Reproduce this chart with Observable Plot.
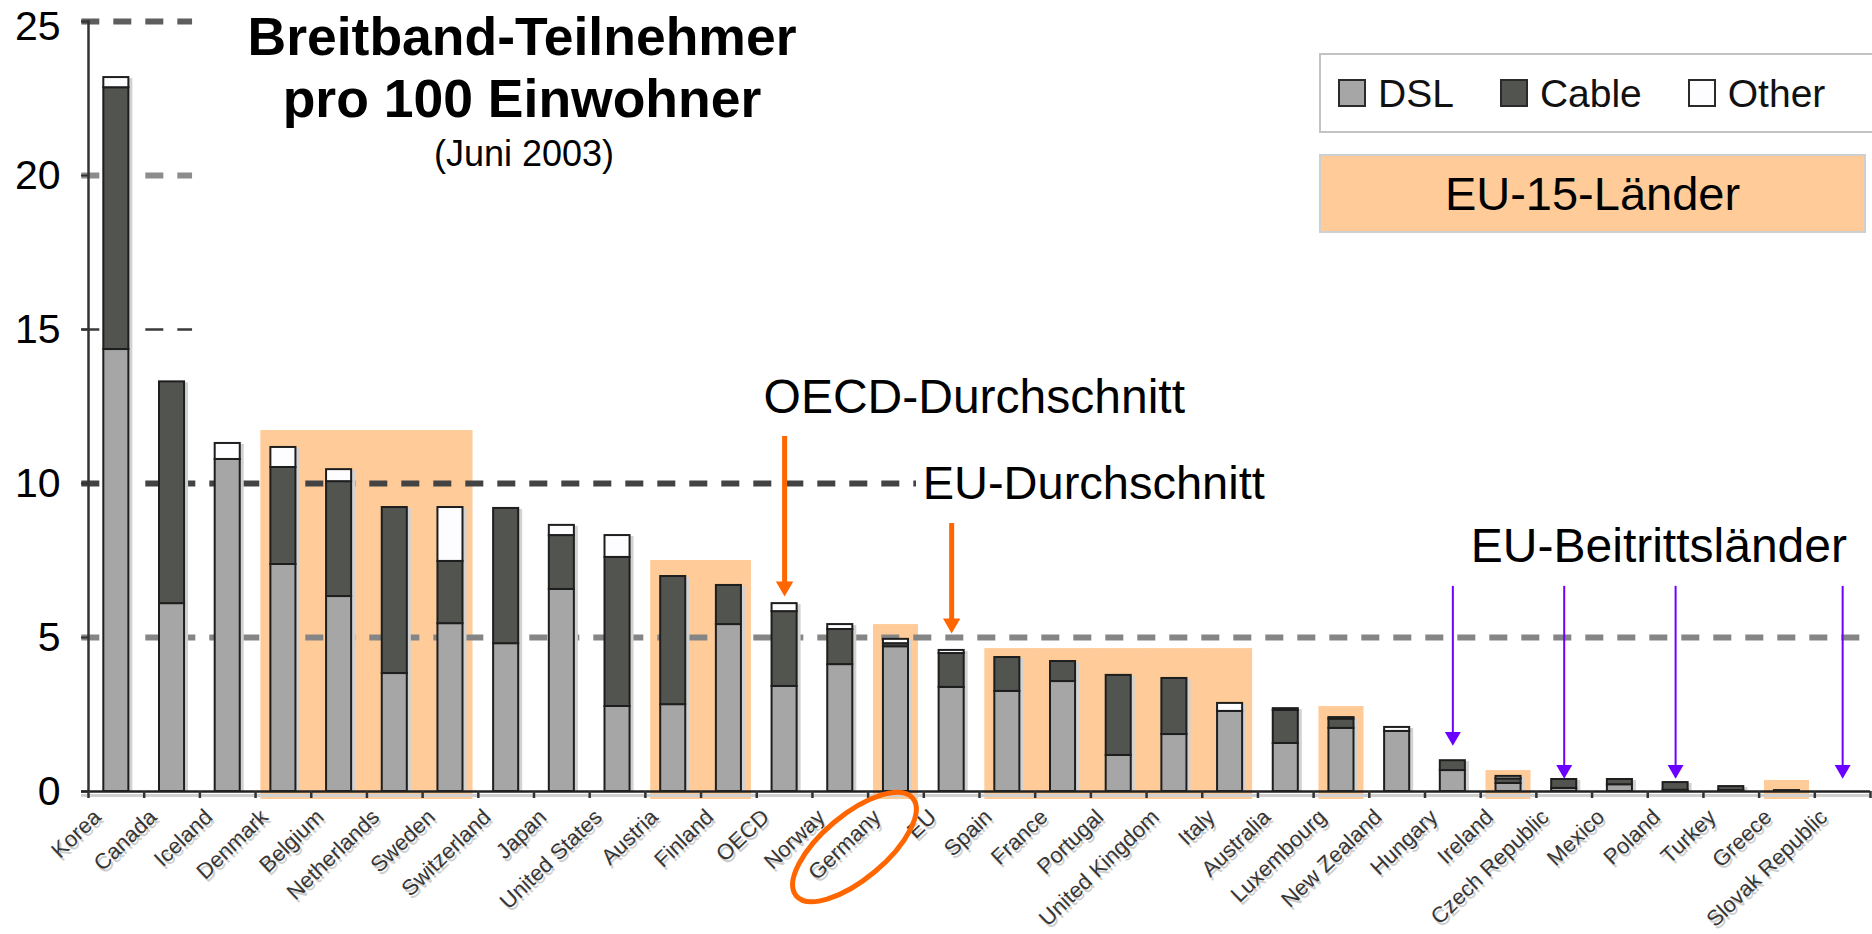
<!DOCTYPE html>
<html>
<head>
<meta charset="utf-8">
<script src="https://cdn.jsdelivr.net/npm/d3@7"></script>
<script src="https://cdn.jsdelivr.net/npm/@observablehq/plot@0.6"></script>
<style>
  html, body { margin: 0; padding: 0; background: #fff; }
  #wrap { position: relative; width: 1872px; height: 934px; overflow: hidden;
          font-family: "Liberation Sans", Arial, Helvetica, sans-serif; color: #000; }
  #chart { position: absolute; left: 0; top: 0; }
  #chart svg { display: block; }
  .ovl { position: absolute; z-index: 2; white-space: nowrap; }
  .t1 { left: 172px; width: 700px; text-align: center; font-weight: bold; font-size: 53.5px; line-height: 53px; }
  .t2 { left: 174px; width: 700px; text-align: center; font-size: 36px; line-height: 36px; }
  #legend { left: 1319px; top: 53px; width: 543px; height: 76px; border: 2px solid #c3c3c3; background: #fff;
            display: flex; align-items: center; padding-left: 17px; box-sizing: content-box; }
  .item { display: flex; align-items: center; margin-right: 46px; font-size: 39px; line-height: 39px; color: #111; }
  .sw { width: 24px; height: 24px; border: 2px solid #2a2a2a; margin-right: 12px; }
  #eu15 { left: 1319px; top: 154px; width: 543px; height: 75px; border: 2px solid #cfcfcf; background: #ffcc99;
          display: flex; align-items: center; justify-content: center; font-size: 47px; line-height: 47px; }
</style>
</head>
<body>
<div id="wrap">
  <div id="chart"></div>
  <div class="ovl t1" style="top:10px">Breitband-Teilnehmer</div>
  <div class="ovl t1" style="top:72px">pro 100 Einwohner</div>
  <div class="ovl t2" style="top:136px">(Juni 2003)</div>
  <div class="ovl" id="legend"></div>
  <div class="ovl" id="eu15">EU-15-Länder</div>
</div>
<script>
// ---------- data ----------
const categories = ["Korea","Canada","Iceland","Denmark","Belgium","Netherlands","Sweden","Switzerland","Japan","United States","Austria","Finland","OECD","Norway","Germany","EU","Spain","France","Portugal","United Kingdom","Italy","Australia","Luxembourg","New Zealand","Hungary","Ireland","Czech Republic","Mexico","Poland","Turkey","Greece","Slovak Republic"];
const dsl   = [14.35,6.1,10.78,7.37,6.33,3.83,5.45,4.8,6.56,2.76,2.82,5.42,3.41,4.12,4.7,3.38,3.25,3.57,1.17,1.85,2.6,1.56,2.05,1.95,0.68,0.26,0.1,0.22,0.04,0.03,0.03,0];
const cable = [8.5,7.2,0,3.15,3.73,5.39,2.02,4.39,1.75,4.84,4.16,1.27,2.43,1.14,0.1,1.1,1.1,0.65,2.6,1.82,0,1.07,0.3,0,0.32,0.15,0.29,0.17,0.25,0.13,0,0];
const other = [0.33,0,0.52,0.65,0.39,0,1.75,0,0.33,0.71,0,0,0.26,0.16,0.14,0.1,0,0,0,0,0.26,0.06,0.05,0.13,0,0.08,0,0,0,0,0,0];

const types = ["DSL","Cable","Other"];
const typeColors = ["#a6a6a6","#52544f","#fdfcff"];

const yTicks = [0,5,10,15,20,25];

// dashed reference lines: value and the category where each visible segment ends
const gridValues = [25,20,15,10,5];
const gridEnds = ["Canada","Canada","Canada","Germany","Slovak Republic"];

// EU-15 highlight groups and their heights
const eu15Groups = [["Denmark","Belgium","Netherlands","Sweden"],["Austria","Finland"],["Germany"],["Spain","France","Portugal","United Kingdom","Italy"],["Luxembourg"],["Ireland"],["Greece"]];
const eu15Tops = [11.72, 7.5, 5.42, 4.64, 2.76, 0.68, 0.36];
const eu15Base = -0.26;

// annotations
const oecdLabel = {text: "OECD-Durchschnitt", x: "OECD", y: 12.8};
const euLabel = {text: "EU-Durchschnitt", x: "EU", y: 10};
const accLabel = {text: "EU-Beitrittsländer", x: "Hungary", y: 7.95};
const orangeArrows = [{x: "OECD", from: 11.53, to: 6.33}, {x: "EU", from: 8.7, to: 5.13}];
const accessionCountries = ["Hungary","Czech Republic","Poland","Slovak Republic"];
const accessionFrom = [6.66, 6.66, 6.66, 6.66];
const accessionTo = [1.49, 0.42, 0.42, 0.42];

// ---------- derived tables ----------
const long = [];
categories.forEach((c, i) => {
  [dsl[i], cable[i], other[i]].forEach((v, k) => { if (v > 0) long.push({country: c, type: types[k], value: v}); });
});
const totals = categories.map((c, i) => ({country: c, total: dsl[i] + cable[i] + other[i]}));
const hl = [];
eu15Groups.forEach((g, gi) => g.forEach((c, k) => {
  const role = g.length === 1 ? "single" : k === 0 ? "first" : k === g.length - 1 ? "last" : "middle";
  hl.push({country: c, top: eu15Tops[gi], role});
}));
const grid = gridValues.map((v, i) => ({y: v, end: gridEnds[i]}));
const purple = accessionCountries.map((c, i) => ({x: c, from: accessionFrom[i], to: accessionTo[i]}));
const topTick = yTicks[yTicks.length - 1];

const ORANGE = "#ff6600", PURPLE = "#6a00ff", HL = "#ffcc99";
const FULL = -15.7, EDGE = -10;
const halfStep = 1782 / 32 / 2;
const font = "Liberation Sans, Arial, sans-serif";

const gridStyle = {
  25: {stroke: "#5e5e5e", strokeWidth: 6},
  20: {stroke: "#8c8c8c", strokeWidth: 6},
  15: {stroke: "#3a3a3a", strokeWidth: 2.5},
  10: {stroke: "#434343", strokeWidth: 6},
  5:  {stroke: "#858585", strokeWidth: 6}
};

const chart = Plot.plot({
  width: 1872, height: 934,
  marginLeft: 88, marginRight: 2, marginTop: 21, marginBottom: 143,
  style: {fontFamily: font, background: "transparent", overflow: "visible"},
  x: {domain: categories, paddingInner: 0.55, paddingOuter: 0.275, round: false, axis: null},
  y: {domain: [0, 25], axis: null},
  color: {domain: types, range: typeColors},
  marks: [
    // EU-15 highlights
    Plot.barY(hl.filter(d => d.role === "single"), {x: "country", y1: eu15Base, y2: "top", fill: HL, insetLeft: EDGE, insetRight: EDGE}),
    Plot.barY(hl.filter(d => d.role === "first"), {x: "country", y1: eu15Base, y2: "top", fill: HL, insetLeft: EDGE, insetRight: FULL}),
    Plot.barY(hl.filter(d => d.role === "middle"), {x: "country", y1: eu15Base, y2: "top", fill: HL, insetLeft: FULL, insetRight: FULL}),
    Plot.barY(hl.filter(d => d.role === "last"), {x: "country", y1: eu15Base, y2: "top", fill: HL, insetLeft: FULL, insetRight: EDGE}),
    // dashed lines
    ...gridValues.map(v => Plot.ruleY(grid.filter(d => d.y === v), {
      y: "y", x1: () => "Korea", x2: "end", insetLeft: -22, insetRight: -8,
      stroke: gridStyle[v].stroke, strokeWidth: gridStyle[v].strokeWidth, strokeDasharray: "18,14"
    })),
    // bar shadows
    Plot.barY(totals, {x: "country", y: "total", fill: "#d2d2d2", dx: 4, dy: 1}),
    // stacked bars
    Plot.barY(long, {x: "country", y: "value", fill: "type", stroke: "#1e1e1e", strokeWidth: 2}),
    // axes
    Plot.frame({anchor: "left", stroke: "#333", strokeWidth: 2.5}),
    Plot.axisY({ticks: yTicks, tickFormat: d => d === topTick ? "" : String(d), tickSize: 7, tickPadding: 21, fontSize: 41, fill: "#000", stroke: "#333", strokeWidth: 2}),
    Plot.text([topTick], {y: d => d, frameAnchor: "left", text: d => String(d), textAnchor: "end", dx: -28, dy: 5, fontSize: 41, fill: "#000"}),
    Plot.ruleY([0], {stroke: "#d0d0d0", strokeWidth: 3, dy: 4, insetLeft: -7}),
    Plot.ruleY([0], {stroke: "#222", strokeWidth: 2.5, insetLeft: -7}),
    Plot.ruleX(categories, {x: d => d, y1: 0, y2: 0, insetBottom: -7, dx: -halfStep, stroke: "#333", strokeWidth: 2.5}),
    Plot.ruleX(categories.slice(-1), {x: d => d, y1: 0, y2: 0, insetBottom: -7, dx: halfStep, stroke: "#333", strokeWidth: 2.5}),
    // category labels
    Plot.text(categories, {x: d => d, frameAnchor: "bottom", text: d => d, rotate: -44, textAnchor: "end",
      fontSize: 22, fill: "#cdcdcd", dx: -12, dy: 30}),
    Plot.text(categories, {x: d => d, frameAnchor: "bottom", text: d => d, rotate: -44, textAnchor: "end",
      fontSize: 22, fill: "#363636", dx: -14, dy: 27}),
    // orange arrows
    Plot.ruleX(orangeArrows, {x: "x", y1: "from", y2: "to", stroke: ORANGE, strokeWidth: 5, insetBottom: 12}),
    Plot.dot(orangeArrows, {x: "x", y: "to", symbol: "triangle2", rotate: 180, r: 8.3, fill: ORANGE, stroke: "none", dy: -10}),
    // purple arrows
    Plot.ruleX(purple, {x: "x", y1: "from", y2: "to", stroke: PURPLE, strokeWidth: 2, insetBottom: 10}),
    Plot.dot(purple, {x: "x", y: "to", symbol: "triangle2", rotate: 180, r: 7.6, fill: PURPLE, stroke: "none", dy: -9}),
    // annotation texts
    Plot.text([oecdLabel], {x: "x", y: "y", text: "text", textAnchor: "start", dx: -21, fontSize: 48, fill: "#000"}),
    Plot.text([euLabel], {x: "x", y: "y", text: "text", textAnchor: "start", dx: -29, fontSize: 47, fill: "#000"}),
    Plot.text([accLabel], {x: "x", y: "y", text: "text", textAnchor: "start", dx: 18, fontSize: 48, fill: "#000"})
  ]
});
document.getElementById("chart").appendChild(chart);

// orange ellipse around the Germany label, placed from the scales
const xs = chart.scale("x"), ys = chart.scale("y");
const gx = xs.apply("Germany") + xs.bandwidth / 2 - 41;
const gy = ys.apply(0) + 56;
d3.select(chart).append("ellipse")
  .attr("cx", gx).attr("cy", gy).attr("rx", 76).attr("ry", 32)
  .attr("transform", `rotate(-40 ${gx} ${gy})`)
  .attr("fill", "none").attr("stroke", ORANGE).attr("stroke-width", 5);

// legend
const legend = document.getElementById("legend");
types.forEach((t, i) => {
  const it = document.createElement("div");
  it.className = "item";
  const sw = document.createElement("div");
  sw.className = "sw";
  sw.style.background = typeColors[i];
  it.appendChild(sw);
  it.appendChild(document.createTextNode(t));
  legend.appendChild(it);
});
</script>
</body>
</html>
